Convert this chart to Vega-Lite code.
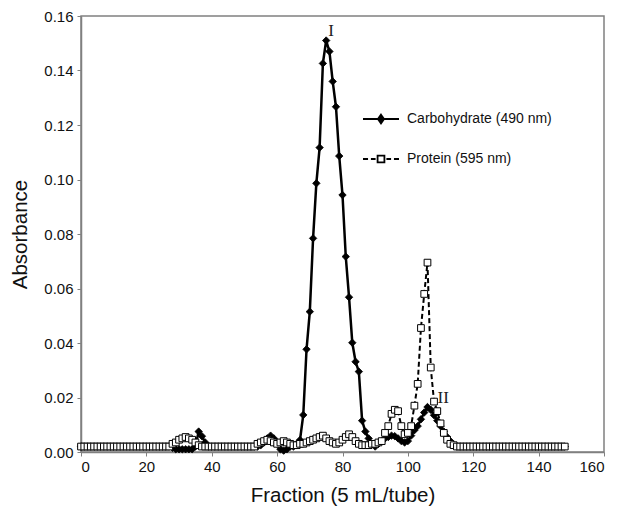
{
  "$schema": "https://vega.github.io/schema/vega-lite/v6.json",
  "width": 523,
  "height": 436,
  "autosize": "none",
  "padding": {"left": 81, "top": 16, "right": 13, "bottom": 59},
  "background": "white",
  "config": {
    "view": {"stroke": "#808080", "strokeWidth": 1.5},
    "axis": {
      "grid": false,
      "domainColor": "#808080",
      "domainWidth": 1.5,
      "tickColor": "#808080",
      "tickSize": 4,
      "labelFont": "Liberation Sans",
      "labelFontSize": 15,
      "labelColor": "#111111",
      "titleFont": "Liberation Sans",
      "titleFontSize": 20.5,
      "titleFontWeight": "normal",
      "titleColor": "#111111"
    },
    "legend": {
      "orient": "none", "legendX": 281, "legendY": 84,
      "symbolSize": 1296, "symbolOpacity": 1, "symbolStrokeWidth": 1.8,
      "rowPadding": 13, "labelOffset": 7,
      "labelFont": "Liberation Sans", "labelFontSize": 14, "labelColor": "#111111"
    }
  },
  "datasets": {
    "absorb": [
      {"f":0,"c":0.002,"p":0.002},{"f":1,"c":0.002,"p":0.002},{"f":2,"c":0.002,"p":0.002},{"f":3,"c":0.002,"p":0.002},{"f":4,"c":0.002,"p":0.002},
      {"f":5,"c":0.002,"p":0.002},{"f":6,"c":0.002,"p":0.002},{"f":7,"c":0.002,"p":0.002},{"f":8,"c":0.002,"p":0.002},{"f":9,"c":0.002,"p":0.002},
      {"f":10,"c":0.002,"p":0.002},{"f":11,"c":0.002,"p":0.002},{"f":12,"c":0.002,"p":0.002},{"f":13,"c":0.002,"p":0.002},{"f":14,"c":0.002,"p":0.002},
      {"f":15,"c":0.002,"p":0.002},{"f":16,"c":0.002,"p":0.002},{"f":17,"c":0.002,"p":0.002},{"f":18,"c":0.002,"p":0.002},{"f":19,"c":0.002,"p":0.002},
      {"f":20,"c":0.002,"p":0.002},{"f":21,"c":0.002,"p":0.002},{"f":22,"c":0.002,"p":0.002},{"f":23,"c":0.002,"p":0.002},{"f":24,"c":0.002,"p":0.002},
      {"f":25,"c":0.002,"p":0.002},{"f":26,"c":0.002,"p":0.002},{"f":27,"c":0.002,"p":0.002},{"f":28,"c":0.0015,"p":0.003},{"f":29,"c":0.001,"p":0.0035},
      {"f":30,"c":0.001,"p":0.0045},{"f":31,"c":0.001,"p":0.005},{"f":32,"c":0.001,"p":0.0055},{"f":33,"c":0.001,"p":0.005},{"f":34,"c":0.001,"p":0.0045},
      {"f":35,"c":0.002,"p":0.0035},{"f":36,"c":0.0075,"p":0.0025},{"f":37,"c":0.0058,"p":0.002},{"f":38,"c":0.0035,"p":0.002},{"f":39,"c":0.002,"p":0.002},
      {"f":40,"c":0.002,"p":0.002},{"f":41,"c":0.002,"p":0.002},{"f":42,"c":0.002,"p":0.002},{"f":43,"c":0.002,"p":0.002},{"f":44,"c":0.002,"p":0.002},
      {"f":45,"c":0.002,"p":0.002},{"f":46,"c":0.002,"p":0.002},{"f":47,"c":0.002,"p":0.002},{"f":48,"c":0.002,"p":0.002},{"f":49,"c":0.002,"p":0.002},
      {"f":50,"c":0.002,"p":0.002},{"f":51,"c":0.002,"p":0.002},{"f":52,"c":0.002,"p":0.002},{"f":53,"c":0.002,"p":0.002},{"f":54,"c":0.002,"p":0.003},
      {"f":55,"c":0.0025,"p":0.0035},{"f":56,"c":0.0035,"p":0.004},{"f":57,"c":0.005,"p":0.0045},{"f":58,"c":0.006,"p":0.004},{"f":59,"c":0.005,"p":0.0035},
      {"f":60,"c":0.003,"p":0.003},{"f":61,"c":0.001,"p":0.0035},{"f":62,"c":0.0005,"p":0.004},{"f":63,"c":0.001,"p":0.0035},{"f":64,"c":0.002,"p":0.003},
      {"f":65,"c":0.002,"p":0.0025},{"f":66,"c":0.003,"p":0.0025},{"f":67,"c":0.0044,"p":0.003},{"f":68,"c":0.0136,"p":0.003},{"f":69,"c":0.0377,"p":0.0035},
      {"f":70,"c":0.0515,"p":0.004},{"f":71,"c":0.0784,"p":0.0045},{"f":72,"c":0.0986,"p":0.005},{"f":73,"c":0.1117,"p":0.0055},{"f":74,"c":0.1426,"p":0.006},
      {"f":75,"c":0.151,"p":0.005},{"f":76,"c":0.147,"p":0.004},{"f":77,"c":0.136,"p":0.0035},{"f":78,"c":0.1267,"p":0.003},{"f":79,"c":0.1086,"p":0.0035},
      {"f":80,"c":0.0943,"p":0.0045},{"f":81,"c":0.0717,"p":0.0055},{"f":82,"c":0.0568,"p":0.0065},{"f":83,"c":0.0401,"p":0.0055},{"f":84,"c":0.0331,"p":0.004},
      {"f":85,"c":0.0295,"p":0.003},{"f":86,"c":0.0115,"p":0.0025},{"f":87,"c":0.0075,"p":0.0025},{"f":88,"c":0.005,"p":0.0025},{"f":89,"c":0.003,"p":0.003},
      {"f":90,"c":0.002,"p":0.003},{"f":91,"c":0.003,"p":0.0035},{"f":92,"c":0.004,"p":0.004},{"f":93,"c":0.005,"p":0.007},{"f":94,"c":0.0055,"p":0.0095},
      {"f":95,"c":0.006,"p":0.014},{"f":96,"c":0.0058,"p":0.0155},{"f":97,"c":0.005,"p":0.015},{"f":98,"c":0.004,"p":0.0095},{"f":99,"c":0.0035,"p":0.0065},
      {"f":100,"c":0.004,"p":0.007},{"f":101,"c":0.006,"p":0.0095},{"f":102,"c":0.008,"p":0.017},{"f":103,"c":0.0095,"p":0.025},{"f":104,"c":0.012,"p":0.0455},
      {"f":105,"c":0.0145,"p":0.058},{"f":106,"c":0.0165,"p":0.0695},{"f":107,"c":0.0155,"p":0.031},{"f":108,"c":0.0135,"p":0.0185},{"f":109,"c":0.0115,"p":0.015},
      {"f":110,"c":0.0095,"p":0.0105},{"f":111,"c":0.0075,"p":0.007},{"f":112,"c":0.0055,"p":0.0045},{"f":113,"c":0.004,"p":0.003},{"f":114,"c":0.0025,"p":0.0025},
      {"f":115,"c":0.002,"p":0.002},{"f":116,"c":0.002,"p":0.002},{"f":117,"c":0.002,"p":0.002},{"f":118,"c":0.002,"p":0.002},{"f":119,"c":0.002,"p":0.002},
      {"f":120,"c":0.002,"p":0.002},{"f":121,"c":0.002,"p":0.002},{"f":122,"c":0.002,"p":0.002},{"f":123,"c":0.002,"p":0.002},{"f":124,"c":0.002,"p":0.002},
      {"f":125,"c":0.002,"p":0.002},{"f":126,"c":0.002,"p":0.002},{"f":127,"c":0.002,"p":0.002},{"f":128,"c":0.002,"p":0.002},{"f":129,"c":0.002,"p":0.002},
      {"f":130,"c":0.002,"p":0.002},{"f":131,"c":0.002,"p":0.002},{"f":132,"c":0.002,"p":0.002},{"f":133,"c":0.002,"p":0.002},{"f":134,"c":0.002,"p":0.002},
      {"f":135,"c":0.002,"p":0.002},{"f":136,"c":0.002,"p":0.002},{"f":137,"c":0.002,"p":0.002},{"f":138,"c":0.002,"p":0.002},{"f":139,"c":0.002,"p":0.002},
      {"f":140,"c":0.002,"p":0.002},{"f":141,"c":0.002,"p":0.002},{"f":142,"c":0.002,"p":0.002},{"f":143,"c":0.002,"p":0.002},{"f":144,"c":0.002,"p":0.002},
      {"f":145,"c":0.002,"p":0.002},{"f":146,"c":0.002,"p":0.002},{"f":147,"c":0.002,"p":0.002},{"f":148,"c":0.002,"p":0.002}
    ],
    "peaks": [
      {"f": 76.5, "a": 0.1545, "t": "I"},
      {"f": 110.8, "a": 0.0198, "t": "II"}
    ]
  },
  "data": {"name": "absorb"},
  "transform": [{"fold": ["c", "p"], "as": ["s", "a"]}],
  "encoding": {
    "x": {
      "field": "f", "type": "quantitative",
      "scale": {"domain": [0, 160], "nice": false},
      "axis": {"values": [0, 20, 40, 60, 80, 100, 120, 140, 160], "title": "Fraction (5 mL/tube)", "labelPadding": 3, "titlePadding": 11}
    },
    "y": {
      "field": "a", "type": "quantitative",
      "scale": {"domain": [0, 0.16], "nice": false},
      "axis": {"values": [0, 0.02, 0.04, 0.06, 0.08, 0.1, 0.12, 0.14, 0.16], "format": ".2f", "title": "Absorbance", "labelPadding": 4, "titlePadding": 13}
    }
  },
  "layer": [
    {
      "transform": [{"filter": "datum.s === 'c'"}],
      "mark": {"type": "line", "color": "black", "strokeWidth": 2.5}
    },
    {
      "transform": [{"filter": "datum.s === 'c'"}],
      "mark": {"type": "point", "shape": "diamond", "filled": true, "fill": "black", "size": 55, "stroke": "black", "strokeWidth": 0.8, "opacity": 1}
    },
    {
      "transform": [{"filter": "datum.s === 'p'"}],
      "mark": {"type": "line", "color": "black", "strokeWidth": 2, "strokeDash": [5, 3]}
    },
    {
      "transform": [{"filter": "datum.s === 'p'"}],
      "mark": {"type": "point", "shape": "square", "filled": true, "fill": "white", "size": 45, "stroke": "black", "strokeWidth": 1, "opacity": 1}
    },
    {
      "transform": [{"filter": "datum.f === 0"}],
      "mark": {"type": "point", "filled": true, "stroke": "black", "strokeWidth": 1.8, "size": 1296, "opacity": 0},
      "encoding": {
        "shape": {
          "field": "s", "type": "nominal",
          "scale": {"domain": ["c", "p"], "range": ["M-1,0H1M0,-0.24L0.17,0L0,0.24L-0.17,0Z", "M-1,0H-0.72M-0.56,0H-0.3M-0.19,-0.19H0.19V0.19H-0.19ZM0.3,0H0.56M0.72,0H1"]},
          "legend": {"title": null, "labelExpr": "datum.value === 'c' ? 'Carbohydrate (490 nm)' : 'Protein (595 nm)'"}
        },
        "fill": {
          "field": "s", "type": "nominal",
          "scale": {"domain": ["c", "p"], "range": ["black", "white"]},
          "legend": {"title": null, "labelExpr": "datum.value === 'c' ? 'Carbohydrate (490 nm)' : 'Protein (595 nm)'"}
        }
      }
    },
    {
      "data": {"name": "peaks"},
      "transform": [],
      "mark": {"type": "text", "font": "Liberation Serif", "fontSize": 17, "color": "#222222", "align": "center", "baseline": "middle"},
      "encoding": {
        "text": {"field": "t", "type": "nominal"}
      }
    }
  ]
}
